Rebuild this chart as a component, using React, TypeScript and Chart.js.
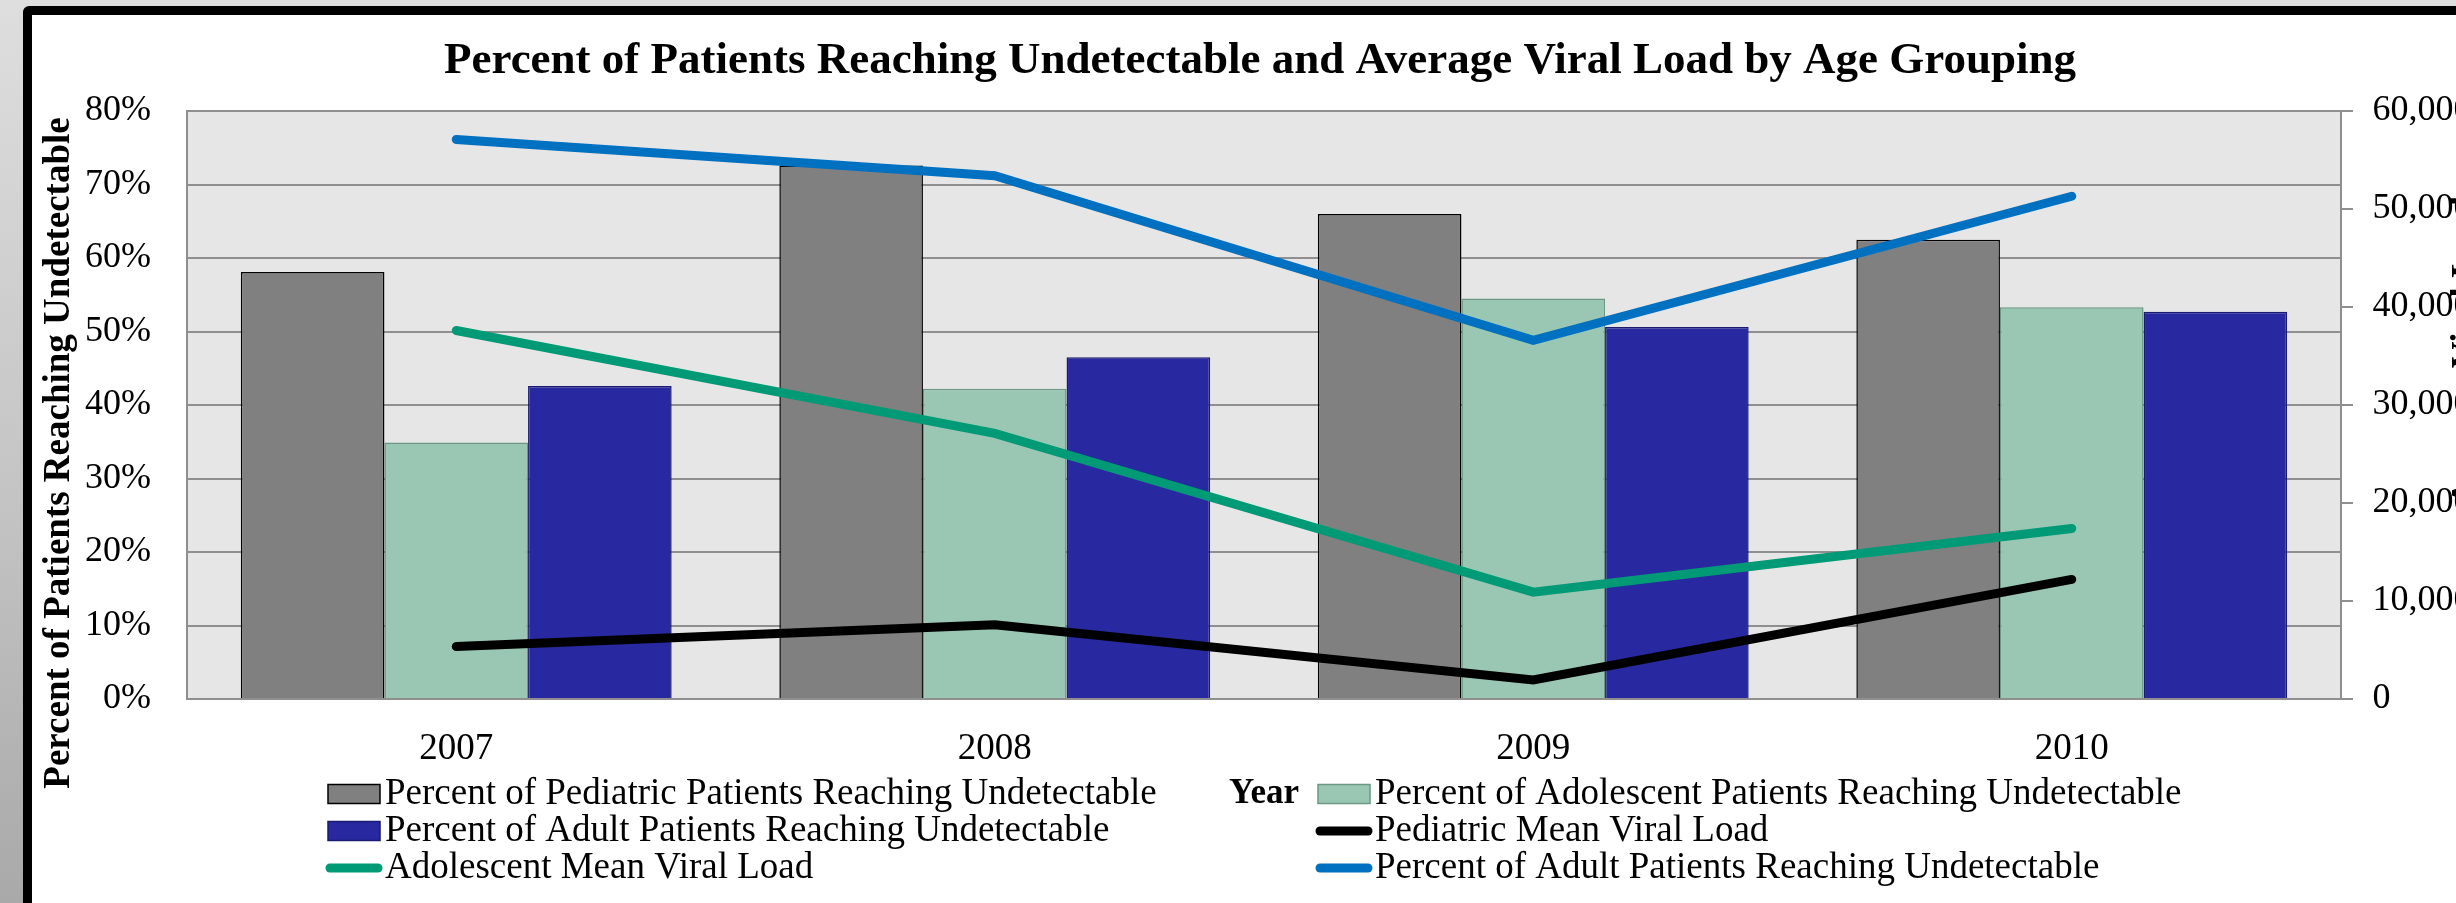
import React, { useEffect, useRef } from 'react';
import { Chart, registerables } from 'chart.js';

Chart.register(...registerables);

// ---- Data ----
const years = ['2007', '2008', '2009', '2010'];
const pediatricPct = [58.1, 72.6, 66.0, 62.5];
const adolescentPct = [34.9, 42.2, 54.5, 53.3];
const adultPct = [42.6, 46.5, 50.6, 52.7];
const pediatricViralLoad = [5360, 7580, 1940, 12200];
const adolescentViralLoad = [37600, 27100, 10900, 17400];
const adultLineValues = [57100, 53400, 36600, 51300];

const seriesNames = [
  'Percent of Pediatric Patients Reaching Undetectable',
  'Percent of Adolescent Patients Reaching Undetectable',
  'Percent of Adult Patients Reaching Undetectable',
  'Pediatric Mean Viral Load',
  'Adolescent Mean Viral Load',
  'Percent of Adult Patients Reaching Undetectable',
];

const chartTitle = 'Percent of Patients Reaching Undetectable and Average Viral Load by Age Grouping';
const leftAxisTitle = 'Percent of Patients Reaching Undetectable';
const rightAxisTitle = 'Average Viral Load';
const xAxisTitle = 'Year';

const SERIF = "'Liberation Serif', 'Times New Roman', serif";
const GRID = '#8f8f8f';

const CANVAS_W = 2520;
const CANVAS_H = 903;

export default function App() {
  const ref = useRef<HTMLCanvasElement | null>(null);

  useEffect(() => {
    const canvas = ref.current;
    if (!canvas) return;

    const plotBg = {
      id: 'plotBg',
      beforeDraw(chart: any) {
        const { ctx, chartArea: ca } = chart;
        ctx.save();
        ctx.fillStyle = '#e6e6e6';
        ctx.fillRect(ca.left, ca.top, ca.right - ca.left, ca.bottom - ca.top);
        ctx.restore();
      },
    };

    const extras = {
      id: 'extras',
      afterDraw(chart: any) {
        const { ctx, chartArea: ca } = chart;
        ctx.save();
        // left axis title
        ctx.fillStyle = '#000';
        ctx.font = `bold 37px ${SERIF}`;
        ctx.textAlign = 'center';
        ctx.textBaseline = 'middle';
        ctx.save();
        ctx.translate(ca.left - 127.5, ca.bottom - 246);
        ctx.rotate(-Math.PI / 2);
        ctx.fillText(leftAxisTitle, 0, 0);
        ctx.restore();
        // right axis title (mostly outside the visible page, as in the source)
        ctx.save();
        ctx.translate(ca.right + 126, ca.top + 240);
        ctx.rotate(-Math.PI / 2);
        ctx.fillText(rightAxisTitle, 0, 0);
        ctx.restore();

        // legend (two columns, row-major like the source)
        const colX = [ca.left + 141, ca.left + 1131];
        const rowY = [ca.bottom + 95, ca.bottom + 132, ca.bottom + 169];
        ctx.font = `37px ${SERIF}`;
        ctx.textAlign = 'left';
        ctx.textBaseline = 'middle';
        chart.data.datasets.forEach((ds: any, i: number) => {
          const x = colX[i % 2];
          const y = rowY[Math.floor(i / 2)];
          if (ds.type === 'bar') {
            ctx.fillStyle = ds.backgroundColor;
            ctx.fillRect(x, y - 9.5, 52, 19);
            ctx.strokeStyle = ds.borderColor;
            ctx.lineWidth = 1.5;
            ctx.strokeRect(x, y - 9.5, 52, 19);
          } else {
            ctx.strokeStyle = ds.borderColor;
            ctx.lineWidth = 9;
            ctx.lineCap = 'round';
            ctx.beginPath();
            ctx.moveTo(x + 2, y);
            ctx.lineTo(x + 50, y);
            ctx.stroke();
          }
          ctx.fillStyle = '#000';
          ctx.fillText(ds.label, x + 57, y);
        });
        ctx.restore();
      },
    };

    const chart = new Chart(canvas, {
      type: 'bar',
      data: {
        labels: years,
        datasets: [
          {
            type: 'bar',
            label: seriesNames[0],
            data: pediatricPct,
            backgroundColor: '#808080',
            borderColor: '#000000',
            borderWidth: 1.5,
            yAxisID: 'y',
            order: 1,
          },
          {
            type: 'bar',
            label: seriesNames[1],
            data: adolescentPct,
            backgroundColor: '#99c7b3',
            borderColor: '#6a9884',
            borderWidth: 1.5,
            yAxisID: 'y',
            order: 1,
          },
          {
            type: 'bar',
            label: seriesNames[2],
            data: adultPct,
            backgroundColor: '#2828a0',
            borderColor: '#1a1a70',
            borderWidth: 1.5,
            yAxisID: 'y',
            order: 1,
          },
          {
            type: 'line',
            label: seriesNames[3],
            data: pediatricViralLoad,
            borderColor: '#000000',
            backgroundColor: '#000000',
            borderWidth: 9,
            borderCapStyle: 'round',
            borderJoinStyle: 'miter',
            pointRadius: 0,
            tension: 0,
            yAxisID: 'y1',
            order: 0,
          },
          {
            type: 'line',
            label: seriesNames[4],
            data: adolescentViralLoad,
            borderColor: '#009a76',
            backgroundColor: '#009a76',
            borderWidth: 9,
            borderCapStyle: 'round',
            borderJoinStyle: 'miter',
            pointRadius: 0,
            tension: 0,
            yAxisID: 'y1',
            order: 0,
          },
          {
            type: 'line',
            label: seriesNames[5],
            data: adultLineValues,
            borderColor: '#0070c0',
            backgroundColor: '#0070c0',
            borderWidth: 9,
            borderCapStyle: 'round',
            borderJoinStyle: 'miter',
            pointRadius: 0,
            tension: 0,
            yAxisID: 'y1',
            order: 0,
          },
        ] as any,
      },
      options: {
        responsive: false,
        animation: false,
        devicePixelRatio: 1,
        layout: { padding: 0 },
        datasets: {
          bar: { categoryPercentage: 0.8, barPercentage: 1 },
        } as any,
        plugins: {
          legend: { display: false },
          tooltip: { enabled: false },
          title: {
            display: true,
            text: chartTitle,
            color: '#000',
            font: { family: SERIF, size: 45, weight: 'bold' },
            padding: { top: 34.5, bottom: 22.5 },
          },
        },
        scales: {
          x: {
            type: 'category',
            grid: { display: false },
            border: { display: false },
            ticks: {
              color: '#000',
              font: { family: SERIF, size: 37 },
              padding: 20,
              maxRotation: 0,
            },
            title: {
              display: true,
              text: xAxisTitle,
              color: '#000',
              font: { family: SERIF, size: 35, weight: 'bold' },
              padding: { top: 0, bottom: 88.5 },
            },
            afterFit: (s: any) => {
              s.height = 204;
            },
          },
          y: {
            position: 'left',
            min: 0,
            max: 80,
            grid: { color: GRID, lineWidth: 2, drawTicks: false },
            border: { color: GRID, width: 2 },
            ticks: {
              stepSize: 10,
              color: '#000',
              font: { family: SERIF, size: 36 },
              padding: 36,
              callback: (v: any) => `${v}%`,
            },
            afterFit: (s: any) => {
              s.width = 187;
            },
          },
          y1: {
            position: 'right',
            min: 0,
            max: 60000,
            grid: { drawOnChartArea: false, drawTicks: true, tickLength: 12, color: GRID, lineWidth: 2 },
            border: { color: GRID, width: 2 },
            ticks: {
              stepSize: 10000,
              color: '#000',
              font: { family: SERIF, size: 36 },
              padding: 19.5,
              callback: (v: any) => Number(v).toLocaleString('en-US'),
            },
            afterFit: (s: any) => {
              s.width = CANVAS_W - 2341;
            },
          },
        },
      } as any,
      plugins: [plotBg, extras],
    });

    return () => chart.destroy();
  }, []);

  return (
    <div
      style={{
        position: 'fixed',
        left: 0,
        top: 0,
        width: '100vw',
        height: '100vh',
        overflow: 'hidden',
        background: 'linear-gradient(180deg, #dedede 0%, #c4c4c4 55%, #a9a9a9 100%)',
      }}
    >
      <div
        style={{
          position: 'absolute',
          left: 23,
          top: 6,
          width: 2700,
          height: 1100,
          boxSizing: 'border-box',
          border: '9.5px solid #000',
          borderRadius: 6,
          background: '#fff',
        }}
      />
      <canvas
        ref={ref}
        width={CANVAS_W}
        height={CANVAS_H}
        style={{ position: 'absolute', left: 0, top: 0, display: 'block' }}
      />
    </div>
  );
}
